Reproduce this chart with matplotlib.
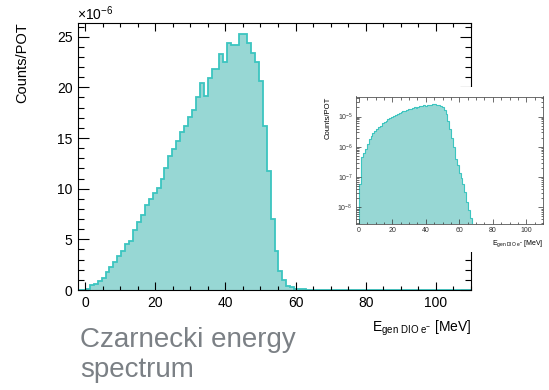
import matplotlib
matplotlib.use("Agg")
import matplotlib.pyplot as plt
import numpy as np
from matplotlib.patches import Rectangle
from matplotlib.ticker import MultipleLocator, LogLocator, NullFormatter

plt.rcParams["font.family"] = ["Liberation Sans", "DejaVu Sans"]
plt.rcParams["mathtext.fontset"] = "custom"
plt.rcParams["mathtext.rm"] = "Liberation Sans"
plt.rcParams["mathtext.it"] = "Liberation Sans:italic"

# histogram: 100 bins from -2 to 110 MeV, counts/POT in units of 1e-6
E_MIN, E_MAX, N_BINS = -2.0, 110.0, 100
counts = [
    0.0, 0.0, 0.06, 0.45, 0.6, 0.85, 1.2, 1.8, 2.3, 2.8,
    3.35, 3.8, 4.5, 4.8, 5.9, 6.7, 7.4, 8.4, 8.95, 9.6,
    10.1, 11.0, 12.0, 13.2, 13.9, 14.7, 15.6, 16.2, 17.1, 17.8,
    19.0, 20.4, 19.15, 20.9, 21.8, 21.8, 23.3, 22.5, 24.4, 24.2,
    24.2, 25.3, 25.3, 24.4, 23.4, 22.5, 20.6, 16.2, 11.7, 7.0,
    3.8, 1.9, 1.0, 0.4, 0.25, 0.14, 0.09, 0.06, 0.033, 0.015,
    0.008, 0.0045,
]
SCALE = 1e-6

x_ticks = [0, 20, 40, 60, 80, 100]
y_ticks = [0, 5, 10, 15, 20, 25]
log_ticks = [1e-8, 1e-7, 1e-6, 1e-5]

FILL = "#97d7d4"
LINE = "#3cc5c0"

vals = np.zeros(N_BINS)
vals[:len(counts)] = counts
edges = np.linspace(E_MIN, E_MAX, N_BINS + 1)

W, H = 549, 390
fig = plt.figure(figsize=(W / 100, H / 100), dpi=100)


def fx(px):
    return px / W


def fy(py):
    return 1 - py / H


# main histogram
ax = fig.add_axes([fx(78), fy(290), fx(471 - 78), (290 - 22.5) / H])
ax.stairs(vals, edges, fill=True, color=FILL, lw=0)
ax.stairs(vals, edges, color=LINE, lw=1.3)
ax.set_xlim(E_MIN, E_MAX)
ax.set_ylim(0, 26.4)
ax.set_xticks(x_ticks)
ax.set_yticks(y_ticks)
ax.xaxis.set_minor_locator(MultipleLocator(5))
ax.yaxis.set_minor_locator(MultipleLocator(1))
ax.tick_params(which="both", direction="in", top=True, right=True,
               labelsize=10, width=0.8, pad=4)
ax.tick_params(axis="x", which="major", length=6)
ax.tick_params(axis="x", which="minor", length=3)
ax.tick_params(axis="y", which="major", length=8)
ax.tick_params(axis="y", which="minor", length=4.3)
for s in ax.spines.values():
    s.set_linewidth(0.8)

fig.text(fx(77), fy(20), r"$\times10^{-6}$", fontsize=10, ha="left", va="baseline")
fig.text(fx(22), fy(22), "Counts/POT", fontsize=10.5, rotation=90, ha="center", va="top")
fig.text(fx(471), fy(332), r"E$_{\mathrm{gen\ DIO\ e^{-}}}$ [MeV]", fontsize=10,
         ha="right", va="baseline")

fig.text(fx(80), fy(347), "Czarnecki energy", fontsize=20, color="#7b8085",
         ha="left", va="baseline")
fig.text(fx(80), fy(377), "spectrum", fontsize=20, color="#7b8085",
         ha="left", va="baseline")

# white panel behind the inset
fig.patches.append(Rectangle((fx(318), fy(252)), fx(549 - 318), (252 - 87) / H,
                             transform=fig.transFigure, facecolor="white",
                             edgecolor="none", zorder=2))

# inset, log scale
ins = fig.add_axes([fx(355.5), fy(224), fx(543 - 355.5), (224 - 96.5) / H], zorder=3)
log_vals = np.where(vals > 0, vals * SCALE, 1e-12)
ins.stairs(log_vals, edges, fill=True, color=FILL, lw=0, baseline=1e-12)
ins.stairs(log_vals, edges, color=LINE, lw=0.8, baseline=1e-12)
ins.set_yscale("log")
ins.set_xlim(E_MIN, E_MAX)
ins.set_ylim(2.8e-9, 4.6e-5)
ins.set_xticks(x_ticks)
ins.xaxis.set_minor_locator(MultipleLocator(5))
ins.yaxis.set_major_locator(LogLocator(base=10))
ins.set_yticks(log_ticks)
ins.yaxis.set_minor_locator(LogLocator(base=10, subs=np.arange(2, 10)))
ins.yaxis.set_minor_formatter(NullFormatter())
ins.tick_params(which="both", direction="in", top=True, right=True,
                labelsize=5, width=0.5, pad=2, colors="#333333")
ins.tick_params(which="major", length=3.5)
ins.tick_params(which="minor", length=1.8)
for s in ins.spines.values():
    s.set_linewidth(0.6)
    s.set_color("#555555")

fig.text(fx(328), fy(97), "Counts/POT", fontsize=5.5, rotation=90, ha="center", va="top",
         zorder=4)
fig.text(fx(543), fy(245), r"E$_{\mathrm{gen\ DIO\ e^{-}}}$ [MeV]", fontsize=5,
         ha="right", va="baseline", zorder=4)

fig.savefig("out.png", dpi=100)
